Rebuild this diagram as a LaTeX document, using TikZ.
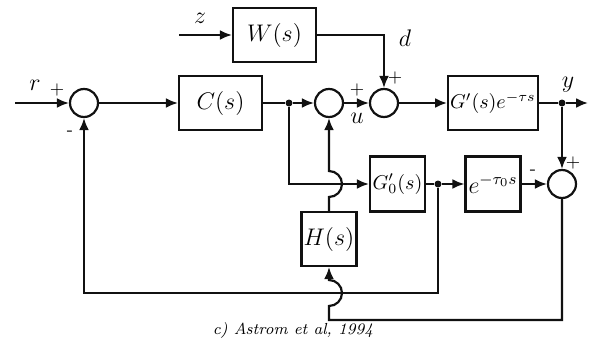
\documentclass[tikz,border=0pt]{standalone}
\usepackage{amsmath}
\usetikzlibrary{calc,arrows.meta,positioning}
\definecolor{LineBlack}{HTML}{111111}
\tikzset{
    block/.style={draw=LineBlack, line width=1.1pt, minimum width=41.5pt, minimum height=27pt, inner sep=1pt, font=\large},
    smallblock/.style={block, minimum width=27.5pt, minimum height=27.5pt},
    sumnode/.style={draw=LineBlack, line width=1.1pt, circle, minimum size=14pt, inner sep=0pt},
    dotnode/.style={fill=LineBlack, circle, minimum size=3.5pt, inner sep=0pt},
    conn/.style={LineBlack, line width=1.1pt, -{Latex[length=6pt, width=5pt]}},
    wire/.style={LineBlack, line width=1.1pt},
    sign/.style={font=\small, inner sep=0pt},
    sig/.style={font=\large, inner sep=0pt},
}
\NewDocumentCommand{\JumpUp}{m}{
    arc[start angle=-90, end angle=90, radius=#1]
}

\begin{document}
\begin{tikzpicture}[x=0.5pt, y=0.5pt]
\useasboundingbox (0,0) rectangle (589,344);

% blocks and summing points
\node[sumnode] (sumR) at (84,241) {};
\node[block] (ctrl) at (220.5,241) {$C(s)$};
\node[block] (dist) at (274.5,309) {$W(s)$};
\node[sumnode] (sumU) at (329,241) {};
\node[sumnode] (sumD) at (384,241) {};
\node[block, font=\normalsize] (plant) at (493,241) {$G'(s)e^{-\tau s}$};
\node[smallblock, font=\normalsize] (model) at (397.5,160) {$G_0'(s)$};
\node[smallblock] (delay) at (493,160) {$e^{-\tau_0 s}$};
\node[sumnode] (sumE) at (562,160) {};
\node[smallblock, minimum height=27pt] (filt) at (329,105) {$H(s)$};

% branch points and free ends
\node[dotnode] (dotC) at (289,241) {};
\node[dotnode] (dotY) at (562,241) {};
\node[dotnode] (dotG) at (438,160) {};
\coordinate (rin) at (15,241);
\coordinate (zin) at (179,309);
\coordinate (yout) at (588,241);
\coordinate (fbL) at (84,51);
\coordinate (jumpA) at (329,147);
\coordinate (errB) at (329,24);
\coordinate (jumpB) at (329,38);

% forward path
\draw[conn] (rin) -- (sumR);
\draw[conn] (sumR) -- (ctrl);
\draw[wire] (ctrl) -- (dotC);
\draw[conn] (dotC) -- (sumU);
\draw[conn] (sumU) -- (sumD);
\draw[conn] (sumD) -- (plant);
\draw[wire] (plant) -- (dotY);
\draw[conn] (dotY) -- (yout);
\draw[conn] (zin) -- (dist);
\draw[conn] (dist.east) -| (sumD.north);

% model path
\draw[conn] (dotC) |- (model.west);
\draw[wire] (model) -- (dotG);
\draw[conn] (dotG) -- (delay);
\draw[conn] (delay) -- (sumE);
\draw[conn] (dotY) -- (sumE);
\draw[conn] (filt.north) -- (jumpA) \JumpUp{6.5pt} -- (sumU.south);
\draw[conn] (dotG) |- (fbL) -- (sumR.south);
\draw[conn] (sumE.south) |- (errB) -- (jumpB) \JumpUp{6.5pt} -- (filt.south);

% labels
\node[sig] (lblR) at (35,259) {$r$};
\node[sign] (pR) at (57,254) {+};
\node[sign] (mR) at (70,211) {-};
\node[sig] (lblZ) at (200,326) {$z$};
\node[sig] (lblD) at (405,306) {$d$};
\node[sign] (pD) at (395,266) {+};
\node[sign] (pU) at (357,254) {+};
\node[sig] (lblU) at (357,226) {$u$};
\node[sig] (lblY) at (568,259) {$y$};
\node[sign] (pE) at (573,181) {+};
\node[sign] (mE) at (533,172) {-};
\node[font=\footnotesize\itshape] (caption) at (293,14) {c) Astrom et al, 1994};
\end{tikzpicture}
\end{document}
